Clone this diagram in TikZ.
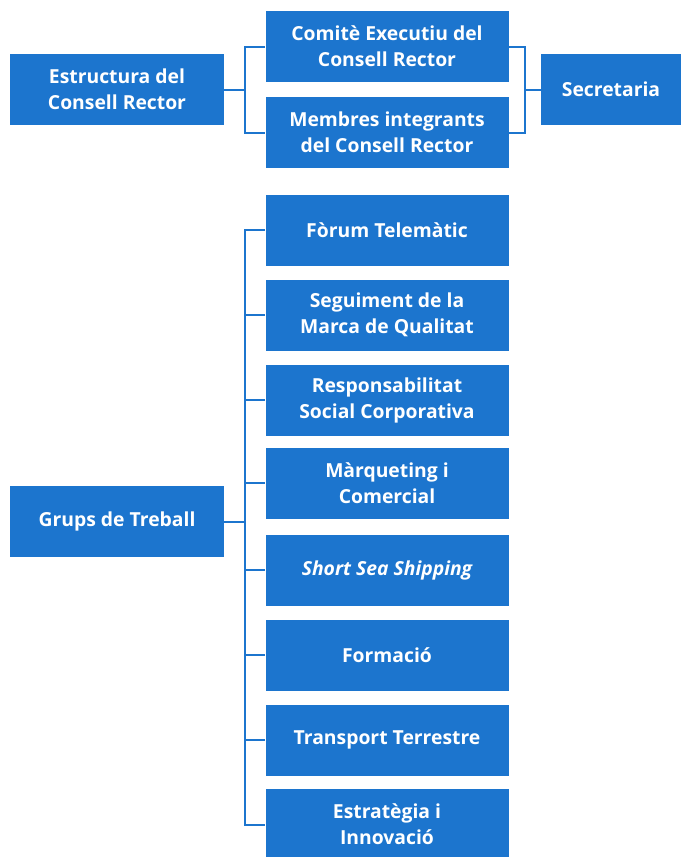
\documentclass[tikz,border=0pt]{standalone}
\usepackage{fontspec}
\setmainfont{Open Sans}
\definecolor{boxblue}{RGB}{28,117,206}
\tikzset{
  box/.style={draw=none, fill=boxblue, text=white, font=\bfseries\fontsize{14.5}{19.5}\selectfont,
    align=center, inner sep=0pt, minimum height=53.25pt},
  wide/.style={box, minimum width=182.25pt},
  left/.style={box, minimum width=160.5pt},
  conn/.style={draw=boxblue, line width=1.5pt}
}
\begin{document}
\begin{tikzpicture}[x=0.75pt,y=-0.75pt]
\useasboundingbox (0,0) rectangle (681,857);
% top
\node[left] (est) at (117,89.5) {Estructura del\\Consell Rector};
\node[wide] (com) at (387,46.5) {Comitè Executiu del\\Consell Rector};
\node[wide] (mem) at (387,132.5) {Membres integrants\\del Consell Rector};
\node[box, minimum width=105pt] (sec) at (611,89.5) {Secretaria};
\coordinate (lb) at (245,89.5);
\coordinate (rb) at (524,89.5);
\draw[conn] (est.east) -- (lb);
\draw[conn] (com.west) -- ++(-20,0) |- (mem.west);
\draw[conn] (com.east) -- ++(16,0) |- (mem.east);
\draw[conn] (rb) -- (sec.west);
% bottom
\node[left] (grups) at (117,521.5) {Grups de Treball};
\node[wide] (b1) at (387,230) {Fòrum Telemàtic};
\node[wide] (b2) at (387,315) {Seguiment de la\\Marca de Qualitat};
\node[wide] (b3) at (387,400) {Responsabilitat\\Social Corporativa};
\node[wide] (b4) at (387,483) {Màrqueting i\\Comercial};
\node[wide] (b5) at (387,570) {\itshape Short Sea Shipping};
\node[wide] (b6) at (387,655) {Formació};
\node[wide] (b7) at (387,740) {Transport Terrestre};
\node[wide] (b8) at (387,824.5) {Estratègia i\\Innovació};
\coordinate (gb) at (245,521.5);
\draw[conn] (grups.east) -- (gb);
\draw[conn] (b1.west) -- ++(-20,0) |- (b8.west);
\foreach \i in {2,...,7} \draw[conn] (b\i.west) -- ++(-20,0);
\end{tikzpicture}
\end{document}
